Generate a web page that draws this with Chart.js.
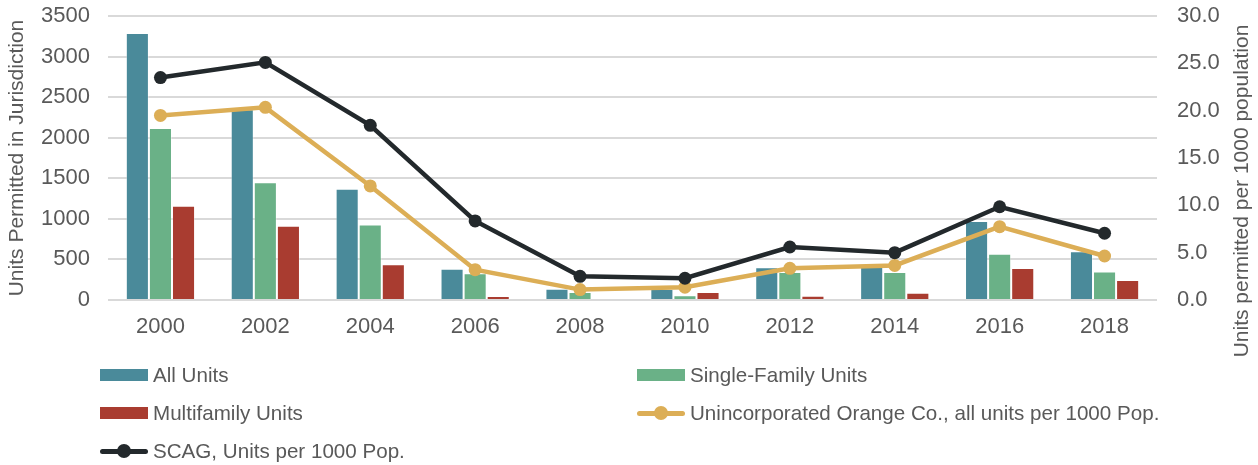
<!DOCTYPE html>
<html>
<head>
<meta charset="utf-8">
<script src="https://cdn.jsdelivr.net/npm/chart.js@4/dist/chart.umd.min.js"></script>
<style>
    body { margin: 0; background: #fff; font-family: "Liberation Sans", Arial, sans-serif; }
    #wrap { position: relative; width: 1258px; height: 465px; }
    #box { position: absolute; left: 0; top: 0; width: 1258px; height: 368px; }
    #legend {
        position: absolute; left: 100px; top: 356px;
        display: grid; grid-template-columns: 537px 570px; grid-auto-rows: 38px;
        color: #595959; font-size: 20.6px;
    }
    .item { display: flex; align-items: center; }
    .swatch { width: 48px; height: 12px; margin-right: 5px; }
    .line { position: relative; width: 48px; height: 5px; margin-right: 5px; border-radius: 3px; }
    .line::after {
        content: ''; position: absolute; left: 17px; top: -5px;
        width: 14px; height: 14px; border-radius: 50%; background: inherit;
    }
</style>
</head>
<body>
<div id="wrap">
    <div id="box"><canvas id="chart"></canvas></div>
    <div id="legend"></div>
</div>
<script>
const years = ['2000', '2002', '2004', '2006', '2008', '2010', '2012', '2014', '2016', '2018'];
const allUnits = [3290, 2350, 1370, 385, 140, 135, 405, 440, 975, 600];
const singleFamily = [2120, 1450, 930, 330, 100, 58, 345, 345, 570, 350];
const multifamily = [1160, 915, 440, 50, 12, 100, 53, 90, 395, 245];
const uncincOrange = [19.5, 20.35, 12.05, 3.2, 1.1, 1.35, 3.35, 3.65, 7.75, 4.65];
const scag = [23.5, 25.1, 18.45, 8.35, 2.5, 2.3, 5.6, 5.0, 9.85, 7.05];
const leftTicks = [0, 500, 1000, 1500, 2000, 2500, 3000, 3500];
const rightTicks = [0, 5, 10, 15, 20, 25, 30];

const textColor = '#595959';
const family = '"Liberation Sans", Arial, sans-serif';
const tickFont = { family, size: 22 };
const titleFont = { family, size: 21 };

function bar(label, data, color) {
    return {
        type: 'bar', label, data, yAxisID: 'y', order: 2,
        backgroundColor: color, borderColor: 'rgba(255,255,255,0.35)', borderWidth: 1,
        barPercentage: 1, categoryPercentage: 0.66,
    };
}

function line(label, data, color, order) {
    return {
        type: 'line', label, data, yAxisID: 'y1', order,
        borderColor: color, backgroundColor: color, borderWidth: 4.5,
        pointRadius: 6.5, pointHoverRadius: 6.5, pointBorderWidth: 0, tension: 0,
    };
}

const datasets = [
    bar('All Units', allUnits, '#4a8a9a'),
    bar('Single-Family Units', singleFamily, '#6ab187'),
    bar('Multifamily Units', multifamily, '#a93c30'),
    line('Unincorporated Orange Co., all units per 1000 Pop.', uncincOrange, '#dcae56', 1),
    line('SCAG, Units per 1000 Pop.', scag, '#23292c', 0),
];

// right-hand axis title reads bottom to top, so draw it by hand
const rightTitle = {
    id: 'rightTitle',
    afterDraw(chart) {
        const { ctx } = chart;
        ctx.save();
        ctx.translate(1242, 191);
        ctx.rotate(-Math.PI / 2);
        ctx.fillStyle = textColor;
        ctx.font = `${titleFont.size}px ${family}`;
        ctx.textAlign = 'center';
        ctx.textBaseline = 'middle';
        ctx.fillText('Units permitted per 1000 population', 0, 0);
        ctx.restore();
    },
};

// pin the plot area: left 108, right 1157, top 16, bottom 300
function sideFit(width) {
    return (s) => {
        s.width = width;
        s.paddingTop = 16;
        s.paddingBottom = 0;
    };
}

new Chart(document.getElementById('chart'), {
    data: { labels: years, datasets },
    plugins: [rightTitle],
    options: {
        responsive: true,
        maintainAspectRatio: false,
        animation: false,
        layout: { autoPadding: false, padding: 0 },
        plugins: { legend: { display: false }, tooltip: { enabled: false } },
        scales: {
            x: {
                grid: { display: false, drawTicks: false },
                border: { display: false },
                ticks: { color: textColor, font: tickFont, padding: 14, maxRotation: 0 },
                afterFit: (s) => {
                    s.height = 68;
                    s.paddingLeft = 0;
                    s.paddingRight = 0;
                },
            },
            y: {
                position: 'left',
                min: 0, max: 3500,
                afterBuildTicks: (s) => { s.ticks = leftTicks.map((v) => ({ value: v })); },
                afterFit: sideFit(108),
                grid: { color: '#d9d9d9', lineWidth: 2, drawTicks: false },
                border: { display: false },
                ticks: { color: textColor, font: tickFont, padding: 18, callback: (v) => String(v) },
                title: {
                    display: true, text: 'Units Permitted in Jurisdiction',
                    color: textColor, font: titleFont, padding: { top: 5, bottom: 5 },
                },
            },
            y1: {
                position: 'right',
                min: 0, max: 30,
                afterBuildTicks: (s) => { s.ticks = rightTicks.map((v) => ({ value: v })); },
                afterFit: sideFit(101),
                grid: { display: false, drawTicks: false },
                border: { display: false },
                ticks: { color: textColor, font: tickFont, padding: 20, callback: (v) => v.toFixed(1) },
            },
        },
    },
});

const legend = document.getElementById('legend');
datasets.forEach((d) => {
    const item = document.createElement('div');
    item.className = 'item';
    const mark = document.createElement('span');
    mark.className = d.type === 'bar' ? 'swatch' : 'line';
    mark.style.background = d.backgroundColor;
    const text = document.createElement('span');
    text.textContent = d.label;
    item.append(mark, text);
    legend.appendChild(item);
});
</script>
</body>
</html>
